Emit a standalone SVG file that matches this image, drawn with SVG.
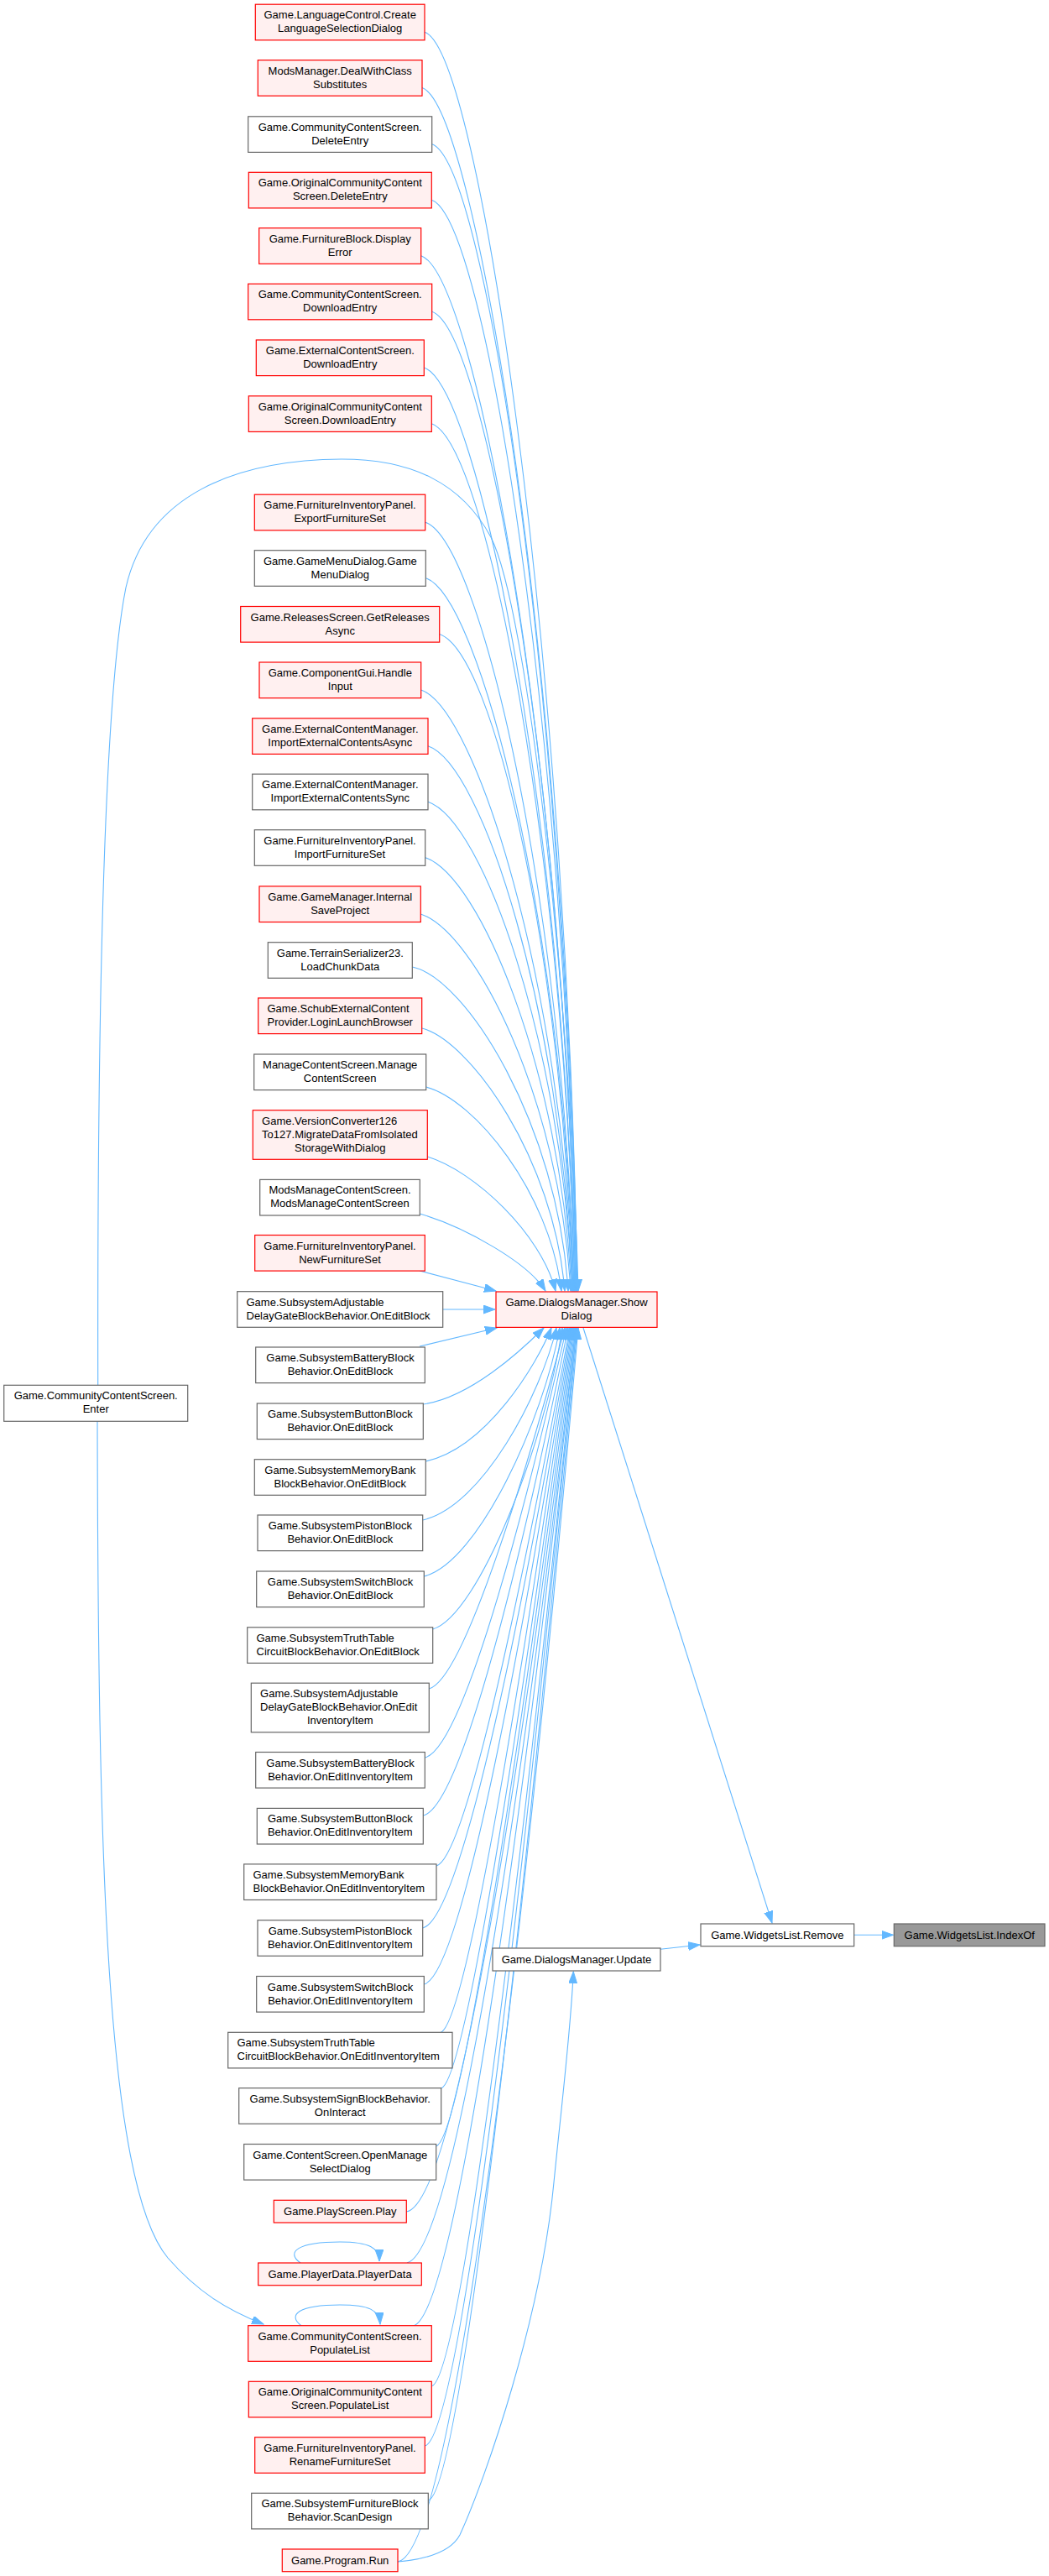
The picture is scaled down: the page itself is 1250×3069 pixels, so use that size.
<svg xmlns="http://www.w3.org/2000/svg" width="1250" height="3069" viewBox="0 0 1250 3069">
<style>
.r{fill:#FFF0F0;stroke:#FF0000;stroke-width:1.2}
.g{fill:#FFFFFF;stroke:#666666;stroke-width:1.2}
.k{fill:#999999;stroke:#666666;stroke-width:1.2}
text{font-family:"Liberation Sans",Arial,sans-serif;font-size:13px;fill:#000000}
.c{text-anchor:middle}
.e{fill:none;stroke:#63B8FF;stroke-width:1.1;marker-end:url(#ah)}
.n{fill:none;stroke:#63B8FF;stroke-width:1.1}
</style>
<defs>
<marker id="ah" markerUnits="userSpaceOnUse" markerWidth="15" markerHeight="11" refX="14" refY="5" orient="auto">
<path d="M0,0 L14,5 L0,10 z" fill="#63B8FF" stroke="#63B8FF" stroke-width="1"/>
</marker>
</defs>
<rect x="0" y="0" width="1250" height="3069" fill="#FFFFFF"/>
<g id="edges">
<path class="e" d="M506,38.2 C571,60.2 675,773.1 688,1538"/>
<path class="e" d="M503,104.6 C568,126.6 675,807 688,1538"/>
<path class="e" d="M514.7,171.8 C579.7,193.8 674,841.2 687,1538"/>
<path class="e" d="M514.3,238.3 C579.3,260.3 674,875.2 687,1538"/>
<path class="e" d="M501.7,304.7 C566.7,326.7 673,909 686,1538"/>
<path class="e" d="M514.7,371.2 C579.7,393.2 673,942.9 686,1538"/>
<path class="e" d="M505.3,438 C570.3,460 672,977 685,1538"/>
<path class="e" d="M514.3,504.8 C579.3,526.8 672,1011.1 685,1538"/>
<path class="e" d="M506.7,622.2 C571.7,644.2 671,1070.9 684,1538"/>
<path class="e" d="M507.3,688.7 C572.3,710.7 671,1104.9 684,1538"/>
<path class="e" d="M523.7,755.5 C588.7,777.5 670,1138.9 683,1538"/>
<path class="e" d="M501.7,822 C566.7,844 670,1172.8 683,1538"/>
<path class="e" d="M510,888.8 C575,910.8 669,1206.9 682,1538"/>
<path class="e" d="M510,955.2 C575,977.2 669,1240.8 682,1538"/>
<path class="e" d="M506.7,1021.7 C571.7,1043.7 668,1274.7 681,1538"/>
<path class="e" d="M501.3,1088.9 C566.3,1110.9 667,1308.9 680,1538"/>
<path class="e" d="M491.3,1152 C555,1165 665,1340 677,1538"/>
<path class="e" d="M502.7,1225 C560,1240 660,1380 673,1538"/>
<path class="e" d="M507.7,1295 C565,1310 655,1420 669,1538"/>
<path class="e" d="M509.3,1378 C565,1395 645,1470 662,1538"/>
<path class="e" d="M500.3,1446 C555,1462 630,1505 650,1538"/>
<path class="e" d="M500,1514 L591,1538"/>
<path class="e" d="M527.7,1560 L590,1560"/>
<path class="e" d="M500,1604 L592,1582"/>
<path class="e" d="M504.3,1673 C560,1665 620,1610 648,1582"/>
<path class="e" d="M507.3,1741 C580,1725 640,1625 657,1582"/>
<path class="e" d="M503.7,1811 C575,1795 645,1660 663,1582"/>
<path class="e" d="M505.3,1878 C570,1862 648,1690 667,1582"/>
<path class="e" d="M515.7,1941 C570,1925 650,1720 670,1582"/>
<path class="e" d="M511.3,2012 C555,2000 633,1732.5 673,1582"/>
<path class="e" d="M506.3,2094 C555,2082 634.5,1761.2 675,1582"/>
<path class="e" d="M504.3,2163 C555,2151 636,1785.4 677,1582"/>
<path class="e" d="M520,2223 C560,2211 637.3,1806.4 679,1582"/>
<path class="e" d="M503.7,2297 C555,2285 638,1832.3 680,1582"/>
<path class="e" d="M505.3,2364 C555,2352 638.7,1855.7 681,1582"/>
<path class="e" d="M525,2421.5 C560,2409 639.4,1875.8 682,1582"/>
<path class="e" d="M525.7,2488 C560,2476 640.1,1899.1 683,1582"/>
<path class="e" d="M519.7,2557 C555,2545 640.8,1923.3 684,1582"/>
<path class="e" d="M484.3,2635 C550,2625 641.5,1950.6 685,1582"/>
<path class="e" d="M485,2696 C550,2680 642.2,1971.9 686,1582"/>
<path class="e" d="M492.7,2771 C550,2755 642.2,1998.2 686,1582"/>
<path class="e" d="M514.3,2843 C555,2831 642.9,2023.4 687,1582"/>
<path class="e" d="M506.3,2914 C555,2902 642.9,2048.2 687,1582"/>
<path class="e" d="M510.3,2979 C555,2967 643.6,2071 688,1582"/>
<path class="e" d="M474,3052 C550,3040 644.3,2096.5 689,1582"/>
<path class="e" d="M116.7,1650 C116,1300 120,850 150,700 C175,590 280,548 407,547 C490,547 550,575 585,640 C630,730 680,1200 689,1538"/>
<path class="e" d="M116,1693.3 C117,2200 125,2600 200,2690 C235,2730 270,2752 314,2769"/>
<path class="e" d="M358,2696 C340,2683 355,2671 405,2671 C440,2671 452,2678 452,2694"/>
<path class="e" d="M359,2770.7 C342,2758 356,2746 405,2746 C440,2746 452,2752 453,2769"/>
<path class="e" d="M474,3052 C520,3048 540,3035 548,3020 C580,2950 645,2760 660,2600 C670,2500 680,2420 683.3,2349"/>
<path class="e" d="M695,1582 L920,2291"/>
<path class="e" d="M787,2322.3 L834,2317"/>
<path class="e" d="M1017.7,2305.3 L1064.5,2305.3"/>
</g>
<g id="n1"><rect class="r" x="304.3" y="5.2" width="201.7" height="42.6"/><text class="c"><tspan x="405.2" y="22.2">Game.LanguageControl.Create</tspan><tspan x="405.2" y="38.2">LanguageSelectionDialog</tspan></text></g>
<g id="n2"><rect class="r" x="307.3" y="71.6" width="195.7" height="42.6"/><text class="c"><tspan x="405.2" y="88.6">ModsManager.DealWithClass</tspan><tspan x="405.2" y="104.6">Substitutes</tspan></text></g>
<g id="n3"><rect class="g" x="295.7" y="138.8" width="219" height="42.6"/><text class="c"><tspan x="405.2" y="155.8">Game.CommunityContentScreen.</tspan><tspan x="405.2" y="171.8">DeleteEntry</tspan></text></g>
<g id="n4"><rect class="r" x="296.3" y="205.3" width="218" height="42.6"/><text class="c"><tspan x="405.3" y="222.3">Game.OriginalCommunityContent</tspan><tspan x="405.3" y="238.3">Screen.DeleteEntry</tspan></text></g>
<g id="n5"><rect class="r" x="308.7" y="271.7" width="193" height="42.6"/><text class="c"><tspan x="405.2" y="288.7">Game.FurnitureBlock.Display</tspan><tspan x="405.2" y="304.7">Error</tspan></text></g>
<g id="n6"><rect class="r" x="295.7" y="338.2" width="219" height="42.6"/><text class="c"><tspan x="405.2" y="355.2">Game.CommunityContentScreen.</tspan><tspan x="405.2" y="371.2">DownloadEntry</tspan></text></g>
<g id="n7"><rect class="r" x="305.3" y="405" width="200" height="42.6"/><text class="c"><tspan x="405.3" y="422">Game.ExternalContentScreen.</tspan><tspan x="405.3" y="438">DownloadEntry</tspan></text></g>
<g id="n8"><rect class="r" x="296.3" y="471.8" width="218" height="42.6"/><text class="c"><tspan x="405.3" y="488.8">Game.OriginalCommunityContent</tspan><tspan x="405.3" y="504.8">Screen.DownloadEntry</tspan></text></g>
<g id="n9"><rect class="r" x="303.3" y="589.2" width="203.4" height="42.6"/><text class="c"><tspan x="405" y="606.2">Game.FurnitureInventoryPanel.</tspan><tspan x="405" y="622.2">ExportFurnitureSet</tspan></text></g>
<g id="n10"><rect class="g" x="303.3" y="655.7" width="204" height="42.6"/><text class="c"><tspan x="405.3" y="672.7">Game.GameMenuDialog.Game</tspan><tspan x="405.3" y="688.7">MenuDialog</tspan></text></g>
<g id="n11"><rect class="r" x="286.7" y="722.5" width="237" height="42.6"/><text class="c"><tspan x="405.2" y="739.5">Game.ReleasesScreen.GetReleases</tspan><tspan x="405.2" y="755.5">Async</tspan></text></g>
<g id="n12"><rect class="r" x="309" y="789" width="192.7" height="42.6"/><text class="c"><tspan x="405.3" y="806">Game.ComponentGui.Handle</tspan><tspan x="405.3" y="822">Input</tspan></text></g>
<g id="n13"><rect class="r" x="300.7" y="855.8" width="209.3" height="42.6"/><text class="c"><tspan x="405.3" y="872.8">Game.ExternalContentManager.</tspan><tspan x="405.3" y="888.8">ImportExternalContentsAsync</tspan></text></g>
<g id="n14"><rect class="g" x="300.7" y="922.2" width="209.3" height="42.6"/><text class="c"><tspan x="405.3" y="939.2">Game.ExternalContentManager.</tspan><tspan x="405.3" y="955.2">ImportExternalContentsSync</tspan></text></g>
<g id="n15"><rect class="g" x="303.3" y="988.7" width="203.4" height="42.6"/><text class="c"><tspan x="405" y="1005.7">Game.FurnitureInventoryPanel.</tspan><tspan x="405" y="1021.7">ImportFurnitureSet</tspan></text></g>
<g id="n16"><rect class="r" x="309" y="1055.9" width="192.3" height="42.6"/><text class="c"><tspan x="405.2" y="1072.9">Game.GameManager.Internal</tspan><tspan x="405.2" y="1088.9">SaveProject</tspan></text></g>
<g id="n17"><rect class="g" x="319.3" y="1122.7" width="172" height="42.6"/><text class="c"><tspan x="405.3" y="1139.7">Game.TerrainSerializer23.</tspan><tspan x="405.3" y="1155.7">LoadChunkData</tspan></text></g>
<g id="n18"><rect class="r" x="307.7" y="1189" width="195" height="42.6"/><text><tspan x="318.5" y="1206">Game.SchubExternalContent</tspan><tspan x="318.5" y="1222">Provider.LoginLaunchBrowser</tspan></text></g>
<g id="n19"><rect class="g" x="302.7" y="1256" width="205" height="42.6"/><text class="c"><tspan x="405.2" y="1273">ManageContentScreen.Manage</tspan><tspan x="405.2" y="1289">ContentScreen</tspan></text></g>
<g id="n20"><rect class="r" x="301.3" y="1322.7" width="208" height="58.6"/><text><tspan x="312.1" y="1339.7">Game.VersionConverter126</tspan><tspan x="312.1" y="1355.7">To127.MigrateDataFromIsolated</tspan><tspan class="c" x="405.3" y="1371.7">StorageWithDialog</tspan></text></g>
<g id="n21"><rect class="g" x="309.7" y="1405.4" width="190.6" height="42.6"/><text class="c"><tspan x="405" y="1422.4">ModsManageContentScreen.</tspan><tspan x="405" y="1438.4">ModsManageContentScreen</tspan></text></g>
<g id="n22"><rect class="r" x="303.7" y="1471.5" width="202.6" height="42.6"/><text class="c"><tspan x="405" y="1488.5">Game.FurnitureInventoryPanel.</tspan><tspan x="405" y="1504.5">NewFurnitureSet</tspan></text></g>
<g id="n23"><rect class="g" x="282.7" y="1538.7" width="245" height="42.6"/><text><tspan x="293.5" y="1555.7">Game.SubsystemAdjustable</tspan><tspan x="293.5" y="1571.7">DelayGateBlockBehavior.OnEditBlock</tspan></text></g>
<g id="n24"><rect class="g" x="304.7" y="1605" width="201.6" height="42.6"/><text class="c"><tspan x="405.5" y="1622">Game.SubsystemBatteryBlock</tspan><tspan x="405.5" y="1638">Behavior.OnEditBlock</tspan></text></g>
<g id="n25"><rect class="g" x="306.3" y="1672" width="198" height="42.6"/><text class="c"><tspan x="405.3" y="1689">Game.SubsystemButtonBlock</tspan><tspan x="405.3" y="1705">Behavior.OnEditBlock</tspan></text></g>
<g id="n26"><rect class="g" x="303.3" y="1738.7" width="204" height="42.6"/><text class="c"><tspan x="405.3" y="1755.7">Game.SubsystemMemoryBank</tspan><tspan x="405.3" y="1771.7">BlockBehavior.OnEditBlock</tspan></text></g>
<g id="n27"><rect class="g" x="307" y="1805" width="196.7" height="42.6"/><text class="c"><tspan x="405.3" y="1822">Game.SubsystemPistonBlock</tspan><tspan x="405.3" y="1838">Behavior.OnEditBlock</tspan></text></g>
<g id="n28"><rect class="g" x="305.7" y="1872" width="199.6" height="42.6"/><text class="c"><tspan x="405.5" y="1889">Game.SubsystemSwitchBlock</tspan><tspan x="405.5" y="1905">Behavior.OnEditBlock</tspan></text></g>
<g id="n29"><rect class="g" x="294.7" y="1938.8" width="221" height="42.6"/><text><tspan x="305.5" y="1955.8">Game.SubsystemTruthTable</tspan><tspan x="305.5" y="1971.8">CircuitBlockBehavior.OnEditBlock</tspan></text></g>
<g id="n30"><rect class="g" x="299.3" y="2005.2" width="212" height="58.6"/><text><tspan x="310.1" y="2022.2">Game.SubsystemAdjustable</tspan><tspan x="310.1" y="2038.2">DelayGateBlockBehavior.OnEdit</tspan><tspan class="c" x="405.3" y="2054.2">InventoryItem</tspan></text></g>
<g id="n31"><rect class="g" x="304.7" y="2087.5" width="201.6" height="42.6"/><text class="c"><tspan x="405.5" y="2104.5">Game.SubsystemBatteryBlock</tspan><tspan x="405.5" y="2120.5">Behavior.OnEditInventoryItem</tspan></text></g>
<g id="n32"><rect class="g" x="306.3" y="2154.4" width="198" height="42.6"/><text class="c"><tspan x="405.3" y="2171.4">Game.SubsystemButtonBlock</tspan><tspan x="405.3" y="2187.4">Behavior.OnEditInventoryItem</tspan></text></g>
<g id="n33"><rect class="g" x="290.7" y="2220.9" width="229.3" height="42.6"/><text><tspan x="301.5" y="2237.9">Game.SubsystemMemoryBank</tspan><tspan x="301.5" y="2253.9">BlockBehavior.OnEditInventoryItem</tspan></text></g>
<g id="n34"><rect class="g" x="307" y="2287.7" width="196.7" height="42.6"/><text class="c"><tspan x="405.3" y="2304.7">Game.SubsystemPistonBlock</tspan><tspan x="405.3" y="2320.7">Behavior.OnEditInventoryItem</tspan></text></g>
<g id="n35"><rect class="g" x="305.7" y="2354.5" width="199.6" height="42.6"/><text class="c"><tspan x="405.5" y="2371.5">Game.SubsystemSwitchBlock</tspan><tspan x="405.5" y="2387.5">Behavior.OnEditInventoryItem</tspan></text></g>
<g id="n36"><rect class="g" x="271.7" y="2421.3" width="267.3" height="42.6"/><text><tspan x="282.5" y="2438.3">Game.SubsystemTruthTable</tspan><tspan x="282.5" y="2454.3">CircuitBlockBehavior.OnEditInventoryItem</tspan></text></g>
<g id="n37"><rect class="g" x="284.7" y="2487.7" width="241" height="42.6"/><text class="c"><tspan x="405.2" y="2504.7">Game.SubsystemSignBlockBehavior.</tspan><tspan x="405.2" y="2520.7">OnInteract</tspan></text></g>
<g id="n38"><rect class="g" x="290.7" y="2554.5" width="229" height="42.6"/><text class="c"><tspan x="405.2" y="2571.5">Game.ContentScreen.OpenManage</tspan><tspan x="405.2" y="2587.5">SelectDialog</tspan></text></g>
<g id="n39"><rect class="r" x="326.3" y="2621.3" width="158" height="26.7"/><text class="c" x="405.3" y="2638.9">Game.PlayScreen.Play</text></g>
<g id="n40"><rect class="r" x="307.7" y="2696" width="194.6" height="26.7"/><text class="c" x="405" y="2713.6">Game.PlayerData.PlayerData</text></g>
<g id="n41"><rect class="r" x="295.7" y="2770.7" width="218.6" height="42.6"/><text class="c"><tspan x="405" y="2787.7">Game.CommunityContentScreen.</tspan><tspan x="405" y="2803.7">PopulateList</tspan></text></g>
<g id="n42"><rect class="r" x="296.3" y="2837.3" width="218" height="42.6"/><text class="c"><tspan x="405.3" y="2854.3">Game.OriginalCommunityContent</tspan><tspan x="405.3" y="2870.3">Screen.PopulateList</tspan></text></g>
<g id="n43"><rect class="r" x="303.7" y="2903.7" width="202.6" height="42.6"/><text class="c"><tspan x="405" y="2920.7">Game.FurnitureInventoryPanel.</tspan><tspan x="405" y="2936.7">RenameFurnitureSet</tspan></text></g>
<g id="n44"><rect class="g" x="299.7" y="2970.3" width="210.6" height="42.6"/><text class="c"><tspan x="405" y="2987.3">Game.SubsystemFurnitureBlock</tspan><tspan x="405" y="3003.3">Behavior.ScanDesign</tspan></text></g>
<g id="n45"><rect class="r" x="336.3" y="3037" width="137.7" height="26.7"/><text class="c" x="405.2" y="3054.6">Game.Program.Run</text></g>
<g id="enter"><rect class="g" x="4.7" y="1650.3" width="219" height="43"/><text class="c"><tspan x="114.2" y="1667.3">Game.CommunityContentScreen.</tspan><tspan x="114.2" y="1683.3">Enter</tspan></text></g>
<g id="showdialog"><rect class="r" x="591" y="1539" width="192" height="42.4"/><text class="c"><tspan x="687" y="1556">Game.DialogsManager.Show</tspan><tspan x="687" y="1572">Dialog</tspan></text></g>
<g id="update"><rect class="g" x="587" y="2321" width="200" height="27"/><text class="c" x="687" y="2338.7">Game.DialogsManager.Update</text></g>
<g id="remove"><rect class="g" x="835" y="2292" width="182.7" height="26.7"/><text class="c" x="926.3" y="2309.5">Game.WidgetsList.Remove</text></g>
<g id="indexof"><rect class="k" x="1065.3" y="2292" width="179.7" height="26.7"/><text class="c" x="1155.2" y="2309.5">Game.WidgetsList.IndexOf</text></g>
</svg>
